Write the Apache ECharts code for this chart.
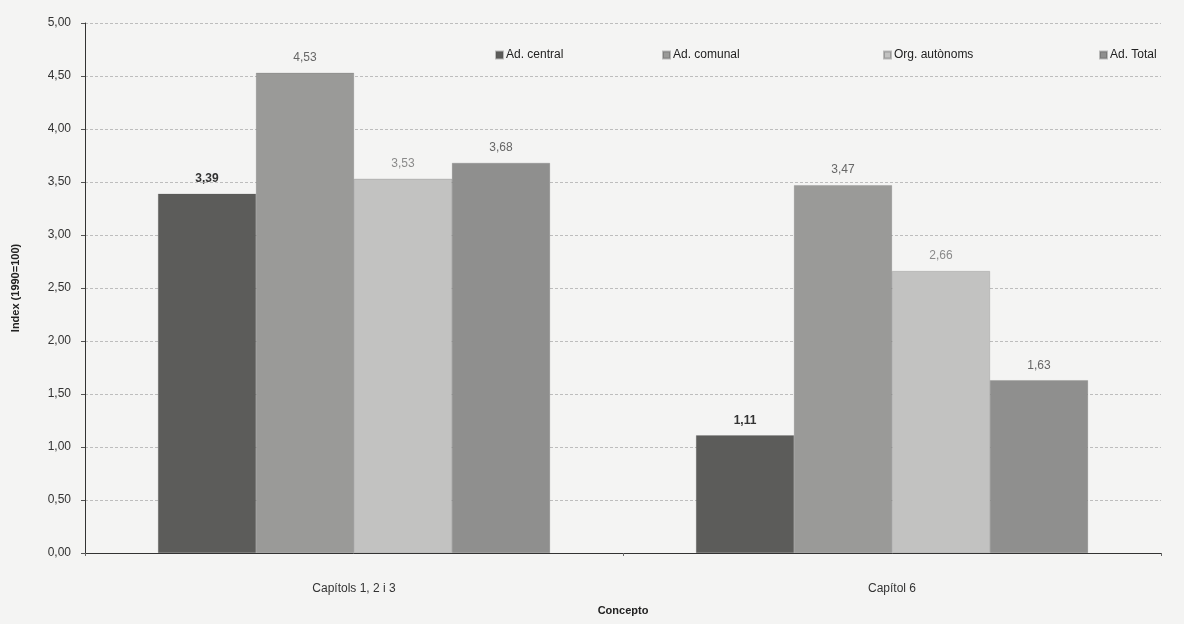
<!DOCTYPE html>
<html>
<head>
<meta charset="utf-8">
<script src="https://cdn.jsdelivr.net/npm/echarts@6/dist/echarts.min.js"></script>
<style>
html,body{margin:0;padding:0;background:#f4f4f3;}
#c{width:1184px;height:624px;}
</style>
</head>
<body>
<div id="c"></div>
<script>
const categories = ['Capítols 1, 2 i 3', 'Capítol 6'];
const seriesNames = ['Ad. central', 'Ad. comunal', 'Org. autònoms', 'Ad. Total'];
const adCentral = [3.39, 1.11];
const adComunal = [4.53, 3.47];
const orgAutonoms = [3.53, 2.66];
const adTotal = [3.68, 1.63];
const yTicks = { min: 0, max: 5, interval: 0.5 };

const seriesData = [adCentral, adComunal, orgAutonoms, adTotal];
const colors = ['#5c5c5a', '#9a9a98', '#c2c2c1', '#8f8f8e'];
const labelColors = ['#333333', '#666666', '#8a8a8a', '#666666'];
const legendLefts = [490, 657, 878, 1094];

const fmt = v => v.toFixed(2).replace('.', ',');
const font = 'Liberation Sans, Arial, sans-serif';

const chart = echarts.init(document.getElementById('c'));
chart.setOption({
  backgroundColor: '#f4f4f3',
  animation: false,
  textStyle: { fontFamily: font },
  legend: seriesNames.map((n, i) => ({
    data: [n],
    left: legendLefts[i],
    top: 44,
    itemWidth: 7,
    itemHeight: 7,
    icon: 'rect',
    itemGap: 3,
    textStyle: { fontSize: 12, color: '#222', fontFamily: font, padding: [0, 0, 0, -2] }
  })),
  grid: { left: 85, right: 23, top: 23, bottom: 71, containLabel: false },
  xAxis: {
    type: 'category',
    data: categories,
    name: 'Concepto',
    nameLocation: 'middle',
    nameGap: 52,
    nameTextStyle: { fontSize: 11, fontWeight: 'bold', color: '#222' },
    axisLine: { lineStyle: { color: '#333', width: 1 } },
    axisTick: { show: true, alignWithLabel: false, length: 3, lineStyle: { color: '#666' } },
    axisLabel: { fontSize: 12, color: '#333', margin: 30 }
  },
  yAxis: {
    type: 'value',
    min: yTicks.min,
    max: yTicks.max,
    interval: yTicks.interval,
    name: 'Index (1990=100)',
    nameLocation: 'middle',
    nameGap: 64,
    nameTextStyle: { fontSize: 11, fontWeight: 'bold', color: '#222' },
    axisLine: { show: true, lineStyle: { color: '#333', width: 1 } },
    axisTick: { show: true, inside: false, length: 4, lineStyle: { color: '#555' } },
    axisLabel: { fontSize: 12, color: '#333', margin: 14, formatter: fmt },
    splitLine: { show: true, lineStyle: { color: '#bdbdbd', type: [3, 2], width: 1 } }
  },
  series: seriesNames.map((n, i) => ({
    name: n,
    type: 'bar',
    data: seriesData[i],
    barWidth: 98,
    barGap: '0%',
    itemStyle: { color: colors[i], borderColor: 'rgba(80,80,80,0.35)', borderWidth: 0.5 },
    label: {
      show: true,
      position: 'top',
      distance: 9,
      fontSize: 12,
      color: labelColors[i],
      fontWeight: i === 0 ? 'bold' : 'normal',
      formatter: p => fmt(p.value)
    }
  }))
});
</script>
</body>
</html>
